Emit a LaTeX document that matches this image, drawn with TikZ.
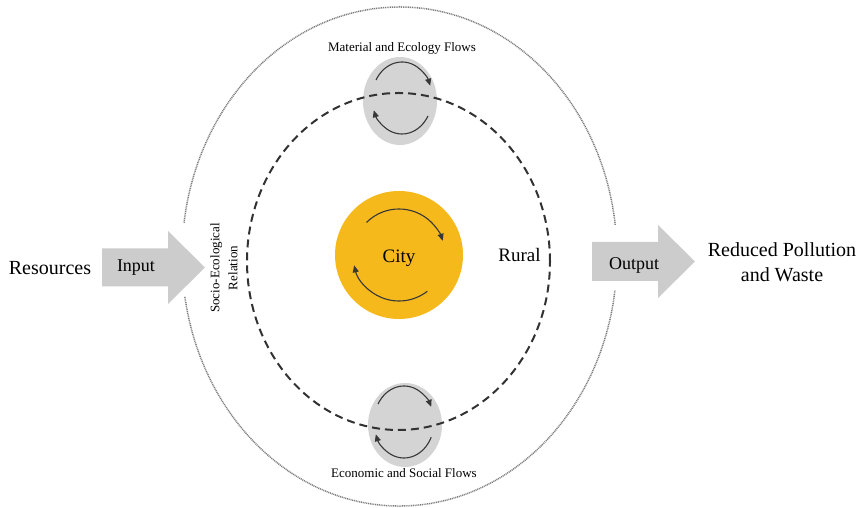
\documentclass[tikz,border=0pt]{standalone}
\usepackage{fontspec}
\setmainfont{Liberation Serif}
\usetikzlibrary{shapes.geometric,arrows.meta,calc}

\definecolor{cityorange}{RGB}{245,185,28}
\definecolor{flowgray}{RGB}{212,212,212}
\definecolor{arrowgray}{RGB}{204,204,204}
\definecolor{ringgray}{RGB}{125,125,125}
\definecolor{dashgray}{RGB}{50,50,50}
\definecolor{arcgray}{RGB}{55,55,55}

\tikzset{
  boundary/.style={ringgray, line width=1.5pt, dash pattern=on 1pt off 0.8pt},
  relation/.style={dashgray, line width=2pt, dash pattern=on 8pt off 5pt},
  flowbubble/.style={ellipse, fill=flowgray, draw=none, inner sep=0pt},
  flowarc/.style={arcgray, line width=1.1pt, -{Triangle[length=7pt,width=6pt]}},
  bigarrow/.style={fill=arrowgray, draw=none},
  label/.style={inner sep=1pt, font=\fontsize{19}{23}\selectfont},
  smalllabel/.style={inner sep=1pt, font=\fontsize{13}{18}\selectfont}
}

\begin{document}
\begin{tikzpicture}[x=1pt, y=1pt]
\useasboundingbox (0,0) rectangle (865,508);

% centres
\coordinate (O) at (399.5,251.5);
\coordinate (D) at (398.5,246.5);

% outer rural boundary, open where the flows pass through
\draw[boundary] (O) ++(7.3:217.5 and 249.5)
  arc[start angle=7.3, end angle=172.3, x radius=217.5, y radius=249.5];
\draw[boundary] (O) ++(189.3:217.5 and 249.5)
  arc[start angle=189.3, end angle=352.3, x radius=217.5, y radius=249.5];

% flow bubbles
\node[flowbubble, minimum width=74pt, minimum height=88pt] (topflow) at (400,407) {};
\node[flowbubble, minimum width=74pt, minimum height=84pt] (botflow) at (405,83) {};

% socio-ecological relation ring
\draw[relation] (D) ellipse[x radius=151.5, y radius=168.5];

% cycles inside the bubbles
\coordinate (T) at (402,410);
\draw[flowarc] (T) ++(150:30 and 36) arc[start angle=150, end angle=20, x radius=30, y radius=36];
\draw[flowarc] (T) ++(330:30 and 36) arc[start angle=330, end angle=200, x radius=30, y radius=36];
\coordinate (B) at (404,86);
\draw[flowarc] (B) ++(150:30 and 36) arc[start angle=150, end angle=25, x radius=30, y radius=36];
\draw[flowarc] (B) ++(335:30 and 36) arc[start angle=335, end angle=200, x radius=30, y radius=36];

% city
\node[circle, fill=cityorange, minimum size=128pt, inner sep=0pt] (city) at (399,253) {};
\node[label] (citytext) at (399,250) {City};
\draw[flowarc] (city.center) ++(135:46) arc[start angle=135, end angle=18, radius=46];
\draw[flowarc] (city.center) ++(308:46) arc[start angle=308, end angle=193, radius=46];

% input and output arrows
\path[bigarrow] (102,259.5) -- (168,259.5) -- (168,277) -- (205,240.5) -- (168,204) -- (168,221.5) -- (102,221.5) -- cycle;
\path[bigarrow] (592,266) -- (658,266) -- (658,283) -- (695,246.5) -- (658,210) -- (658,227) -- (592,227) -- cycle;

% texts
\node[label, font=\fontsize{20}{24}\selectfont] (resources) at (50,240) {Resources};
\node[label, font=\fontsize{18}{22}\selectfont] (input) at (136,240) {Input};
\node[label, font=\fontsize{18}{22}\selectfont] (output) at (634,243) {Output};
\node[label, align=center, font=\fontsize{20}{25}\selectfont] (result) at (782,246) {Reduced Pollution\\and Waste};
\node[label] (rural) at (519.5,253) {Rural};
\node[smalllabel, align=center, rotate=90] (relationtext) at (224,240) {Socio-Ecological\\Relation};
\node[smalllabel] (topflowtext) at (402,460) {Material and Ecology Flows};
\node[smalllabel] (botflowtext) at (404,35) {Economic and Social Flows};
\end{tikzpicture}
\end{document}
